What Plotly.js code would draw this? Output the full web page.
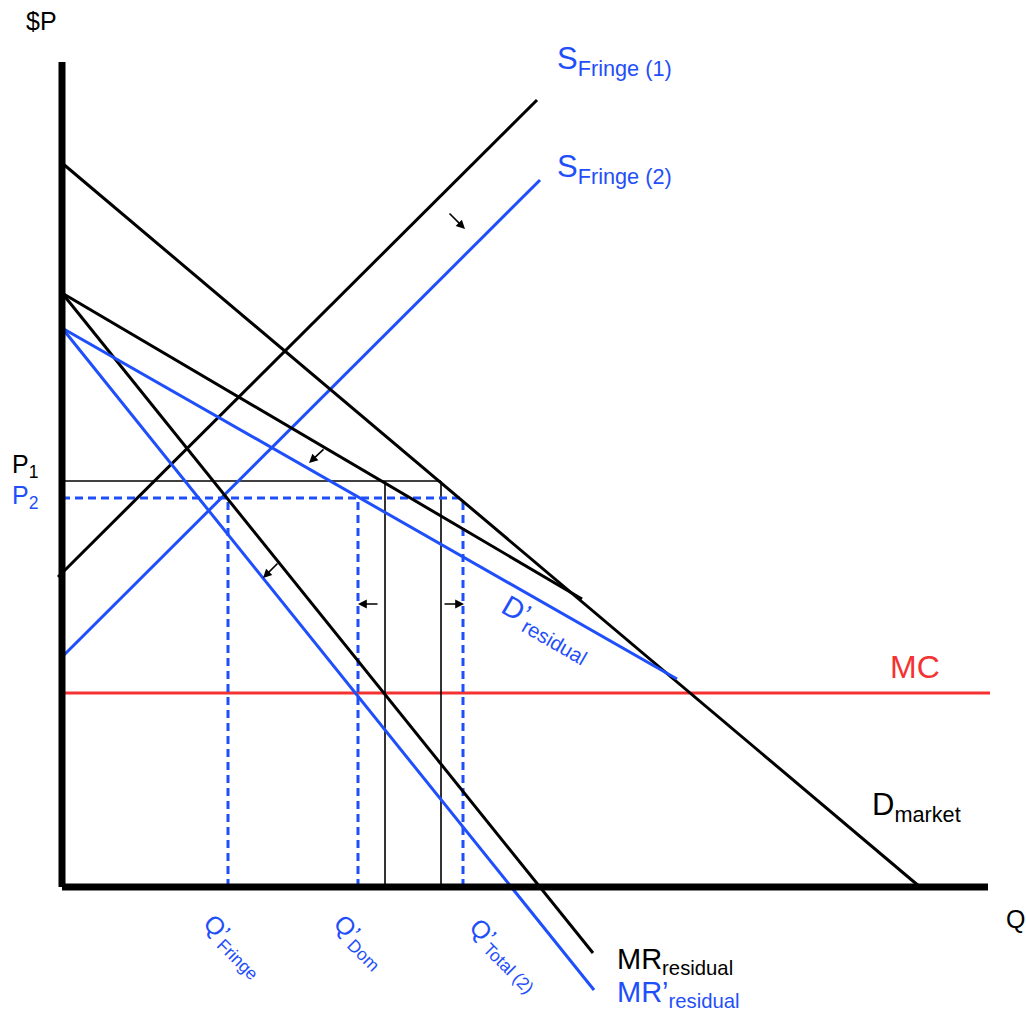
<!DOCTYPE html>
<html>
<head>
<meta charset="utf-8">
<script src="https://cdn.plot.ly/plotly-3.0.1.min.js"></script>
<style>html,body{margin:0;padding:0;background:#fff;}#chart{width:1026px;height:1012px;}</style>
</head>
<body>
<div id="chart"></div>
<script>
// ---- Data (Q on horizontal axis, P on vertical axis) ----
const qFringe1 = [-4, 475];
const pFringe1 = [310, 787];
const qFringe2 = [0, 478];
const pFringe2 = [230, 707];
const qDemandMarket = [0, 858];
const pDemandMarket = [724, 0];
const qDemandResidual = [0, 520];
const pDemandResidual = [594, 288];
const qMRResidual = [0, 531];
const pMRResidual = [594, -66];
const qDemandResidual2 = [0, 615];
const pDemandResidual2 = [559, 208];
const qMRResidual2 = [0, 532];
const pMRResidual2 = [559, -103];
const mcLevel = 194;
const qMCRange = [0, 928];
const priceP1 = 406;
const priceP2 = 389;
const qDom1 = 323;
const qTotal1 = 379;
const qFringeNew = 166;
const qDomNew = 296;
const qTotalNew = 401;
const axisQMax = 926;
const axisPMax = 825;
// shift arrows: tail -> head
const arrowTailQ = [386, 263, 217, 317, 381];
const arrowTailP = [675, 439, 325, 283, 283];
const arrowHeadQ = [403, 247, 201, 296, 402];
const arrowHeadP = [658, 424, 309, 283, 283];

const BLUE = '#1f4ffa';
const RED = '#f53232';
const BLACK = '#000000';
const FONT = 'Liberation Sans, Arial, Helvetica, sans-serif';

function seg(x, y, color, width, dash) {
  return {x: x, y: y, mode: 'lines', type: 'scatter', hoverinfo: 'skip',
          line: {color: color, width: width, dash: dash || 'solid'}};
}

const traces = [
  seg(qMCRange, [mcLevel, mcLevel], RED, 3),
  // P1 solid guides
  seg([0, qTotal1], [priceP1, priceP1], BLACK, 1.6),
  seg([qDom1, qDom1], [0, priceP1], BLACK, 1.6),
  seg([qTotal1, qTotal1], [0, priceP1], BLACK, 1.6),
  // P2 dotted guides
  seg([0, qTotalNew], [priceP2, priceP2], BLUE, 3, '8px,5px'),
  seg([qFringeNew, qFringeNew], [0, priceP2], BLUE, 3, '8px,5px'),
  seg([qDomNew, qDomNew], [0, priceP2], BLUE, 3, '8px,5px'),
  seg([qTotalNew, qTotalNew], [0, priceP2], BLUE, 3, '8px,5px'),
  // curves
  seg(qFringe1, pFringe1, BLACK, 3),
  seg(qFringe2, pFringe2, BLUE, 3),
  seg(qDemandMarket, pDemandMarket, BLACK, 3),
  seg(qDemandResidual, pDemandResidual, BLACK, 3),
  seg(qMRResidual, pMRResidual, BLACK, 3),
  seg(qDemandResidual2, pDemandResidual2, BLUE, 3),
  seg(qMRResidual2, pMRResidual2, BLUE, 3),
  // axes
  seg([0, 0], [0, axisPMax], BLACK, 7),
  seg([0, axisQMax], [0, 0], BLACK, 7)
];

function label(x, y, text, color, size, xanchor, angle) {
  return {x: x, y: y, xref: 'x', yref: 'y', text: text, showarrow: false,
          xanchor: xanchor || 'left', yanchor: 'middle', textangle: angle || 0,
          font: {family: FONT, size: size, color: color}};
}

const annotations = [
  label(-21, 866, '$P', BLACK, 25, 'center'),
  label(942, -32, 'Q', BLACK, 25, 'left'),
  label(-52, 421, 'P<sub>1</sub>', BLACK, 25, 'left'),
  label(-52, 390, 'P<sub>2</sub>', BLUE, 25, 'left'),
  label(493, 826, 'S<sub>Fringe (1)</sub>', BLUE, 31, 'left'),
  label(493, 718, 'S<sub>Fringe (2)</sub>', BLUE, 31, 'left'),
  label(826, 220, 'MC', RED, 32, 'left'),
  label(808, 80, 'D<sub>market</sub>', BLACK, 31, 'left'),
  label(553, -74, 'MR<sub>residual</sub>', BLACK, 29, 'left'),
  label(553, -107, 'MR\u2019<sub>residual</sub>', BLUE, 29, 'left'),
  label(484, 258, 'D\u2019<sub>residual</sub>', BLUE, 29, 'center', 30),
  label(171, -59, 'Q\u2019<sub>Fringe</sub>', BLUE, 25, 'center', 45),
  label(297, -55, 'Q\u2019<sub>Dom</sub>', BLUE, 25, 'center', 45),
  label(442, -68, 'Q\u2019<sub>Total (2)</sub>', BLUE, 25, 'center', 45)
];

for (let i = 0; i < arrowTailQ.length; i++) {
  annotations.push({
    x: arrowHeadQ[i], y: arrowHeadP[i], ax: arrowTailQ[i], ay: arrowTailP[i],
    xref: 'x', yref: 'y', axref: 'x', ayref: 'y', text: '', showarrow: true,
    arrowhead: 2, arrowsize: 1.1, arrowwidth: 1.6, arrowcolor: BLACK, standoff: 0
  });
}

const layout = {
  width: 1026, height: 1012,
  margin: {l: 0, r: 0, t: 0, b: 0},
  paper_bgcolor: '#ffffff', plot_bgcolor: '#ffffff',
  showlegend: false,
  xaxis: {range: [-62, 964], visible: false, fixedrange: true},
  yaxis: {range: [-125, 887], visible: false, fixedrange: true},
  annotations: annotations,
  font: {family: FONT}
};

Plotly.newPlot('chart', traces, layout, {displayModeBar: false, staticPlot: true});
</script>
</body>
</html>
